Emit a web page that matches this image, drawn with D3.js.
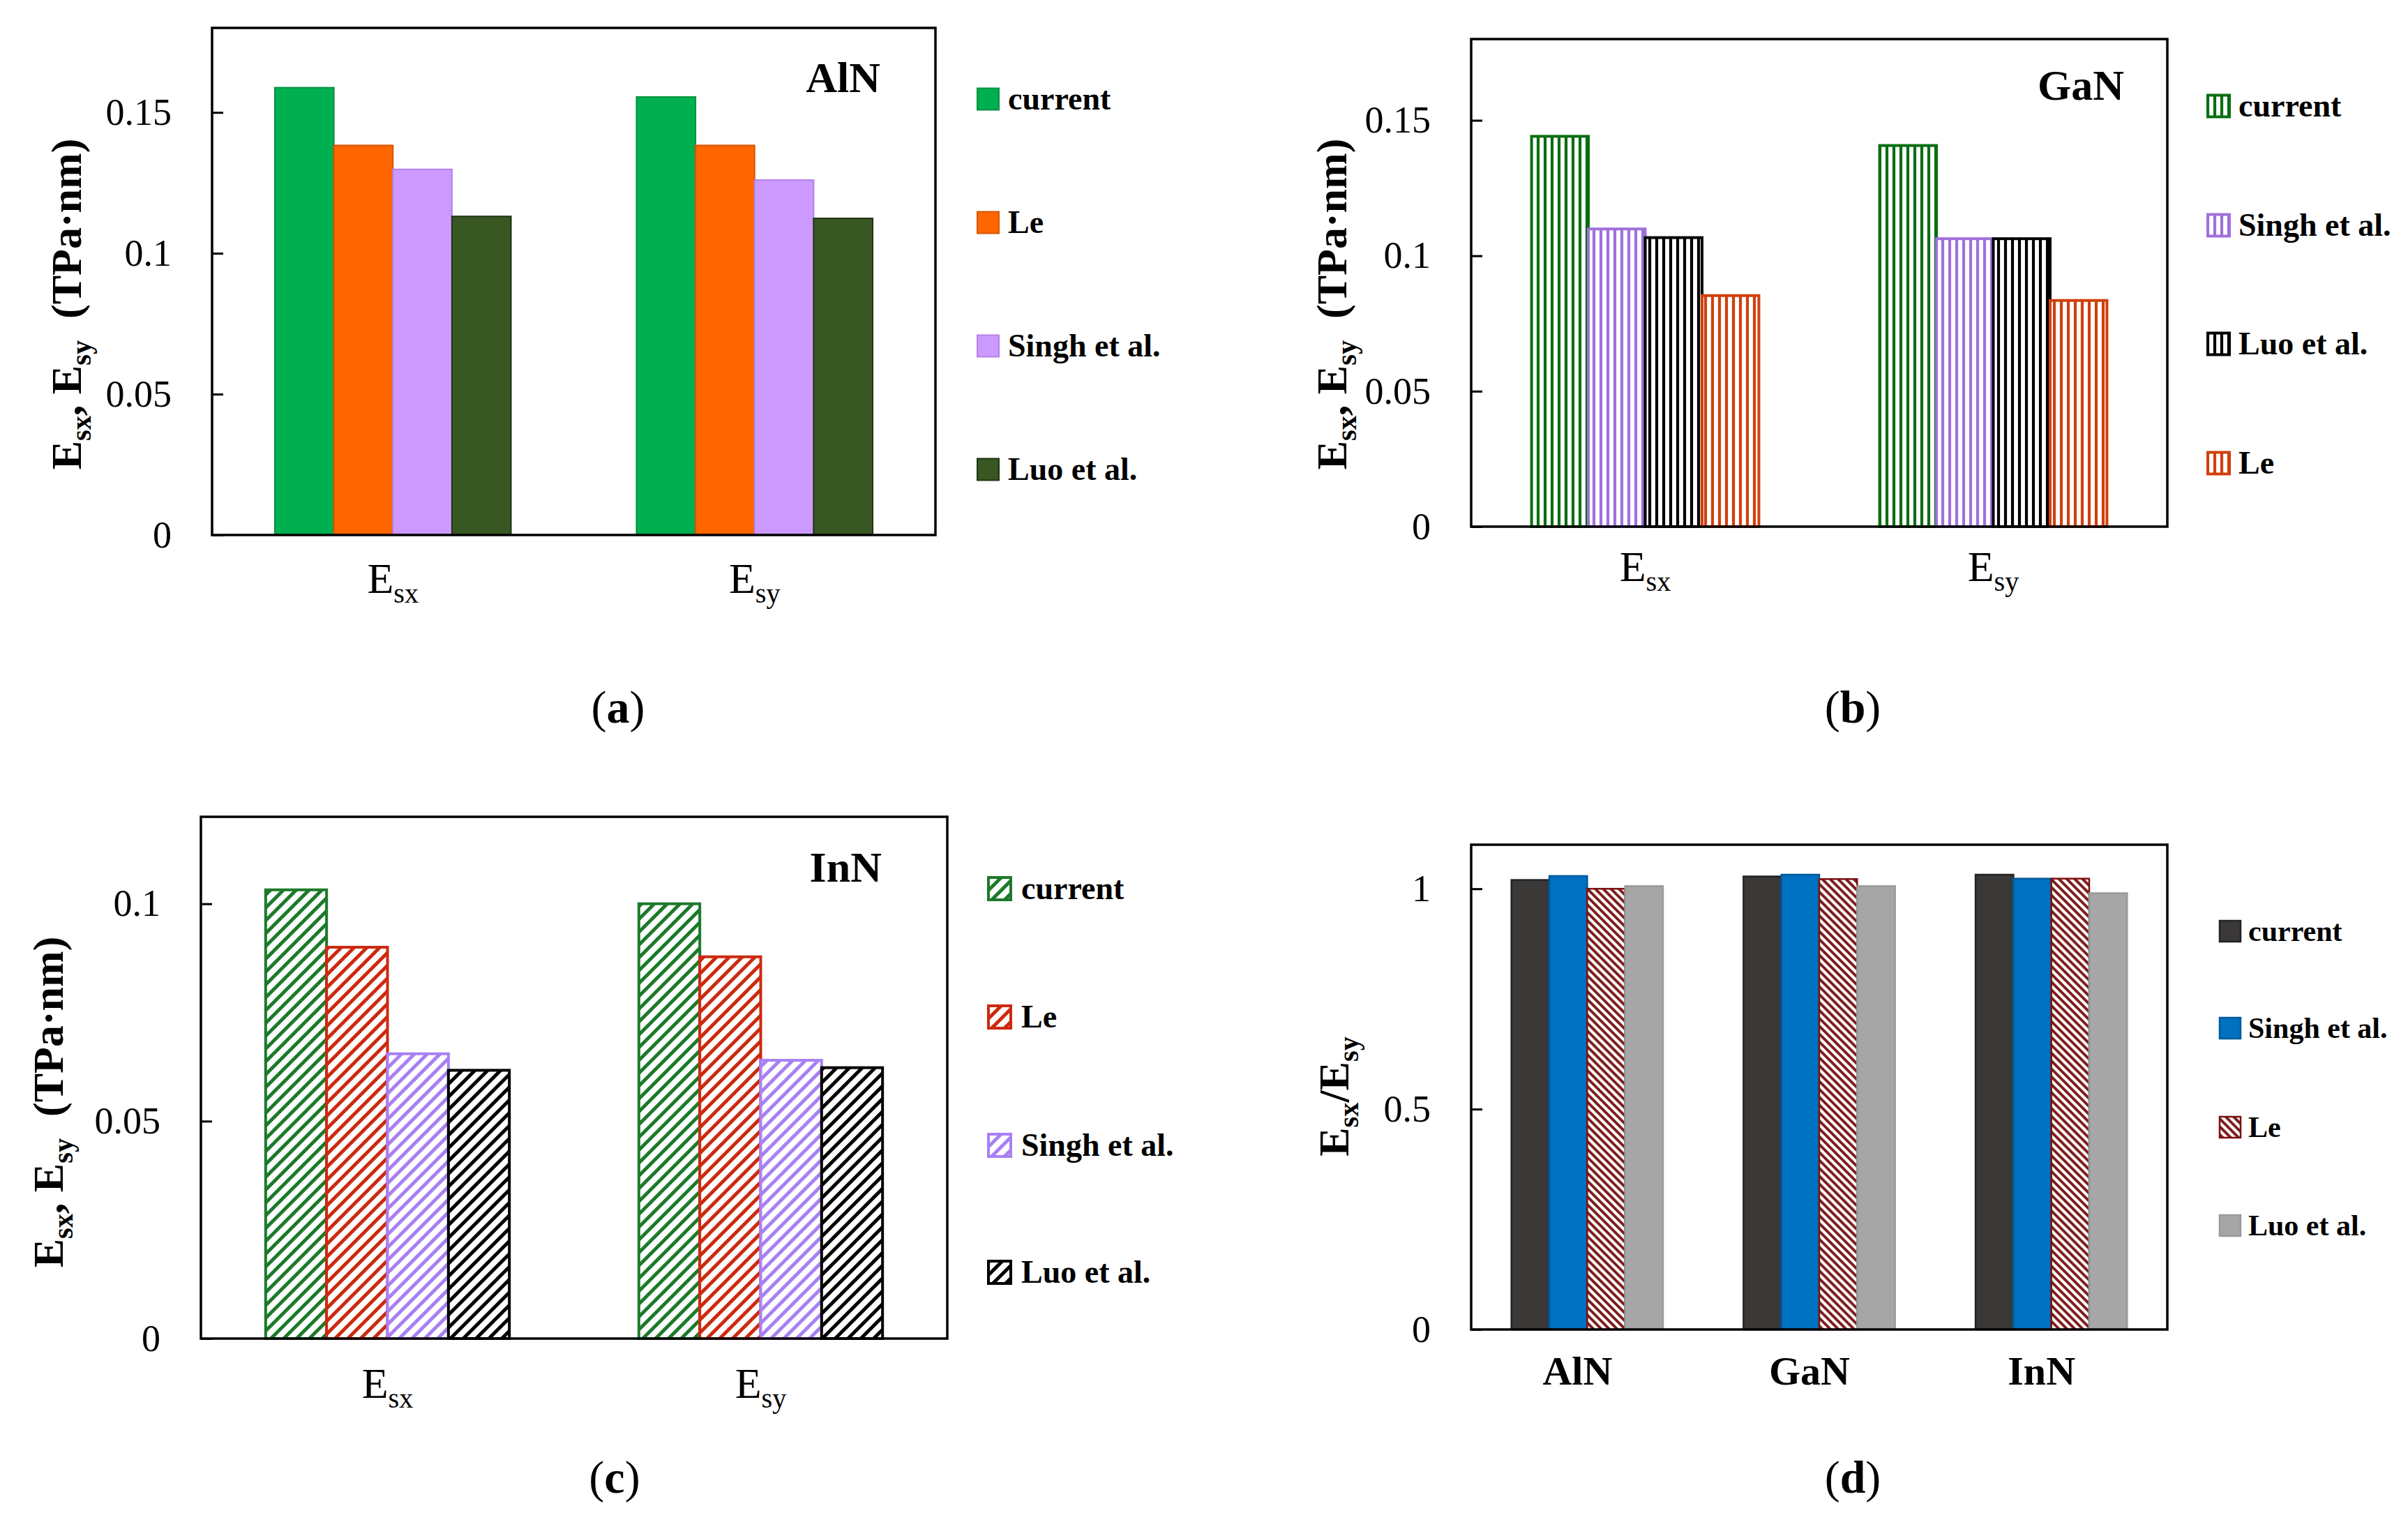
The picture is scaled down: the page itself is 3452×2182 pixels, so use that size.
<!DOCTYPE html>
<html>
<head>
<meta charset="utf-8">
<script src="https://cdn.jsdelivr.net/npm/d3@7"></script>
<style>
  body { margin: 0; background: #fff; }
  svg { display: block; }
</style>
</head>
<body>
<div id="chart"></div>
<script>
// Canvas
const W = 3452, H = 2182;
const FONT = "'Liberation Serif', 'Times New Roman', serif";

// ---- data ----
const moduli = ["sx", "sy"];            // E_sx, E_sy (subscripts)
const materials = ["AlN", "GaN", "InN"];

// (a) AlN
const alnSeries = ["current", "Le", "Singh et al.", "Luo et al."];
const alnCurrent = [0.1588, 0.1555];
const alnLe = [0.1383, 0.1383];
const alnSingh = [0.1298, 0.1260];
const alnLuo = [0.1131, 0.1124];

// (b) GaN
const ganSeries = ["current", "Singh et al.", "Luo et al.", "Le"];
const ganCurrent = [0.1441, 0.1407];
const ganSingh = [0.1099, 0.1063];
const ganLuo = [0.1067, 0.1063];
const ganLe = [0.0853, 0.0835];

// (c) InN
const innSeries = ["current", "Le", "Singh et al.", "Luo et al."];
const innCurrent = [0.1032, 0.1000];
const innLe = [0.0900, 0.0878];
const innSingh = [0.0655, 0.0640];
const innLuo = [0.0617, 0.0623];

// (d) ratio Esx/Esy
const ratioSeries = ["current", "Singh et al.", "Le", "Luo et al."];
const ratioCurrent = [1.020, 1.028, 1.032];
const ratioSingh = [1.029, 1.032, 1.023];
const ratioLe = [1.000, 1.022, 1.023];
const ratioLuo = [1.006, 1.006, 0.990];

// tick values
const ticksAB = [0, 0.05, 0.1, 0.15];
const ticksC = [0, 0.05, 0.1];
const ticksD = [0, 0.5, 1];

const svg = d3.select("#chart")
  .append("svg")
  .attr("width", W)
  .attr("height", H)
  .style("font-family", FONT);

svg.append("rect").attr("width", W).attr("height", H).attr("fill", "#fff");

const defs = svg.append("defs");

// vertical stripes (panel b)
function vStripe(id, color) {
  const p = defs.append("pattern")
    .attr("id", id)
    .attr("patternUnits", "userSpaceOnUse")
    .attr("width", 10).attr("height", 10);
  p.append("rect").attr("width", 10).attr("height", 10).attr("fill", "#fff");
  p.append("line").attr("x1", 5).attr("x2", 5).attr("y1", 0).attr("y2", 10)
    .attr("stroke", color).attr("stroke-width", 4.2);
  return `url(#${id})`;
}

// diagonal stripes, angle decides direction
function dStripe(id, color, size, width, angle) {
  const p = defs.append("pattern")
    .attr("id", id)
    .attr("patternUnits", "userSpaceOnUse")
    .attr("width", size).attr("height", size)
    .attr("patternTransform", `rotate(${angle})`);
  p.append("rect").attr("width", size).attr("height", size).attr("fill", "#fff");
  p.append("line").attr("x1", size / 2).attr("x2", size / 2).attr("y1", 0).attr("y2", size)
    .attr("stroke", color).attr("stroke-width", width);
  return `url(#${id})`;
}

// Add a subscripted label like E_sx
function subLabel(sel, base, sub, size) {
  sel.append("tspan").text(base);
  sel.append("tspan").attr("font-size", size * 0.65).attr("dy", size * 0.22).text(sub);
}

function drawPanel(p) {
  const g = svg.append("g");
  const x0 = d3.scaleBand()
    .domain(p.cats)
    .range([p.box.x0, p.box.x1]);
  const x1 = d3.scaleBand()
    .domain(p.series.map(s => s.name))
    .range([0, x0.bandwidth() * 0.653]);
  const off = x0.bandwidth() * (1 - 0.653) / 2;
  const y = d3.scaleLinear()
    .domain([0, p.yMax])
    .range([p.box.y1, p.box.y0]);

  // bars
  p.series.forEach(s => {
    g.selectAll(null)
      .data(s.values.map((v, i) => ({ cat: p.cats[i], v })))
      .join("rect")
      .attr("x", d => x0(d.cat) + off + x1(s.name))
      .attr("y", d => y(d.v))
      .attr("width", x1.bandwidth())
      .attr("height", d => y(0) - y(d.v))
      .attr("fill", s.fill)
      .attr("stroke", s.stroke)
      .attr("stroke-width", s.sw);
  });

  // frame
  g.append("rect")
    .attr("x", p.box.x0).attr("y", p.box.y0)
    .attr("width", p.box.x1 - p.box.x0)
    .attr("height", p.box.y1 - p.box.y0)
    .attr("fill", "none")
    .attr("stroke", "#000")
    .attr("stroke-width", 3.5);

  // y axis, inward ticks
  const ax = g.append("g")
    .attr("transform", `translate(${p.box.x0},0)`)
    .call(d3.axisLeft(y)
      .tickValues(p.ticks)
      .tickFormat(d => String(d))
      .tickSize(-16)
      .tickPadding(58))
    .call(a => a.select(".domain").remove());
  ax.attr("font-family", FONT).attr("font-size", 54);
  ax.selectAll(".tick line").attr("stroke", "#000").attr("stroke-width", 3);
  ax.selectAll(".tick text").attr("fill", "#000");

  // category labels
  p.cats.forEach((c, i) => {
    const t = g.append("text")
      .attr("x", x0(c) + x0.bandwidth() / 2 + (p.catShift || 0))
      .attr("y", p.catY)
      .attr("text-anchor", "middle")
      .attr("font-size", p.catSize)
      .attr("font-weight", p.catBold ? "bold" : "normal");
    if (p.catSub) subLabel(t, "E", p.catSub[i], p.catSize);
    else t.text(c);
  });

  // y axis title
  const cy = p.titleY;
  const yt = g.append("text")
    .attr("transform", `translate(${p.titleX},${cy}) rotate(-90)`)
    .attr("text-anchor", "middle")
    .attr("font-size", p.titleSize)
    .attr("font-weight", "bold");
  const ts = p.titleSize;
  if (p.ratio) {
    yt.append("tspan").text("E");
    yt.append("tspan").attr("font-size", ts * 0.65).attr("dy", ts * 0.22).text("sx");
    yt.append("tspan").attr("dy", -ts * 0.22).text("/E");
    yt.append("tspan").attr("font-size", ts * 0.65).attr("dy", ts * 0.22).text("sy");
  } else {
    yt.append("tspan").text("E");
    yt.append("tspan").attr("font-size", ts * 0.65).attr("dy", ts * 0.22).text("sx");
    yt.append("tspan").attr("dy", -ts * 0.22).text(", E");
    yt.append("tspan").attr("font-size", ts * 0.65).attr("dy", ts * 0.22).text("sy");
    yt.append("tspan").attr("dy", -ts * 0.22).text("\u00a0\u00a0(TPa\u00b7nm)");
  }

  // material tag in the corner
  if (p.tag) {
    g.append("text")
      .attr("x", p.tag.x).attr("y", p.tag.y)
      .attr("text-anchor", "end")
      .attr("font-size", 62)
      .attr("font-weight", "bold")
      .text(p.tag.text);
  }

  // legend
  p.series.forEach((s, i) => {
    const ly = p.legend.ys[i];
    g.append("rect")
      .attr("x", p.legend.x)
      .attr("y", ly - p.legend.sq / 2)
      .attr("width", p.legend.sq)
      .attr("height", p.legend.sq)
      .attr("fill", s.fill)
      .attr("stroke", s.stroke)
      .attr("stroke-width", Math.max(s.sw, 2));
    g.append("text")
      .attr("x", p.legend.tx)
      .attr("y", ly)
      .attr("dy", "0.33em")
      .attr("font-size", p.legend.size)
      .attr("font-weight", "bold")
      .text(s.name);
  });

  // (a), (b) ...
  const pl = g.append("text")
    .attr("x", p.letter.x).attr("y", p.letter.y)
    .attr("text-anchor", "middle")
    .attr("font-size", 66);
  pl.append("tspan").text("(");
  pl.append("tspan").attr("font-weight", "bold").text(p.letter.text);
  pl.append("tspan").text(")");
}

// ---- panel (a) ----
const alnColors = ["#00b050", "#ff6600", "#cc99ff", "#385723"];
const alnStroke = ["#079140", "#d65400", "#b482ea", "#1f3512"];
drawPanel({
  box: { x0: 304, x1: 1341, y0: 40, y1: 767 },
  cats: moduli, catSub: moduli, catY: 850, catSize: 62,
  yMax: 0.18, ticks: ticksAB,
  series: [alnCurrent, alnLe, alnSingh, alnLuo].map((v, i) => ({
    name: alnSeries[i], values: v, fill: alnColors[i], stroke: alnStroke[i], sw: 2
  })),
  titleX: 116, titleY: 436, titleSize: 62,
  tag: { text: "AlN", x: 1262, y: 132 },
  legend: { x: 1401, tx: 1445, sq: 31, size: 46, ys: [142, 319, 496, 673] },
  letter: { text: "a", x: 886, y: 1036 }
});

// ---- panel (b) ----
const ganColors = ["#0a6e12", "#a070dc", "#000000", "#d0400e"];
drawPanel({
  box: { x0: 2109, x1: 3107, y0: 56, y1: 755 },
  cats: moduli, catSub: moduli, catY: 833, catSize: 62,
  yMax: 0.18, ticks: ticksAB,
  series: [ganCurrent, ganSingh, ganLuo, ganLe].map((v, i) => ({
    name: ganSeries[i], values: v, fill: vStripe("vs" + i, ganColors[i]), stroke: ganColors[i], sw: 4
  })),
  titleX: 1930, titleY: 436, titleSize: 62,
  tag: { text: "GaN", x: 3045, y: 143 },
  legend: { x: 3165, tx: 3209, sq: 31, size: 46, ys: [152, 323, 493, 664] },
  letter: { text: "b", x: 2656, y: 1036 }
});

// ---- panel (c) ----
const innColors = ["#1c7a2a", "#cc2a10", "#a880f4", "#000000"];
drawPanel({
  box: { x0: 288, x1: 1358, y0: 1171, y1: 1919 },
  cats: moduli, catSub: moduli, catY: 2004, catSize: 62,
  yMax: 0.12, ticks: ticksC,
  series: [innCurrent, innLe, innSingh, innLuo].map((v, i) => ({
    name: innSeries[i], values: v, fill: dStripe("ds" + i, innColors[i], 13, 5, 45), stroke: innColors[i], sw: 4
  })),
  titleX: 90, titleY: 1580, titleSize: 62,
  tag: { text: "InN", x: 1264, y: 1264 },
  legend: { x: 1417, tx: 1464, sq: 32, size: 46, ys: [1274, 1458, 1642, 1824] },
  letter: { text: "c", x: 881, y: 2140 }
});

// ---- panel (d) ----
const ratioColors = ["#3b3838", "#0070c0", dStripe("dle", "#7a1616", 8, 3.8, -45), "#a6a6a6"];
const ratioStroke = ["#222", "#005a9e", "#7a1010", "#999"];
drawPanel({
  box: { x0: 2109, x1: 3107, y0: 1211, y1: 1906 },
  cats: materials, catSub: null, catY: 1985, catSize: 58, catBold: true, catShift: -14,
  yMax: 1.1, ticks: ticksD, ratio: true,
  series: [ratioCurrent, ratioSingh, ratioLe, ratioLuo].map((v, i) => ({
    name: ratioSeries[i], values: v, fill: ratioColors[i], stroke: ratioStroke[i], sw: 2.5
  })),
  titleX: 1933, titleY: 1572, titleSize: 62,
  tag: null,
  legend: { x: 3182, tx: 3223, sq: 30, size: 42, ys: [1335, 1474, 1616, 1757] },
  letter: { text: "d", x: 2656, y: 2140 }
});
</script>
</body>
</html>
